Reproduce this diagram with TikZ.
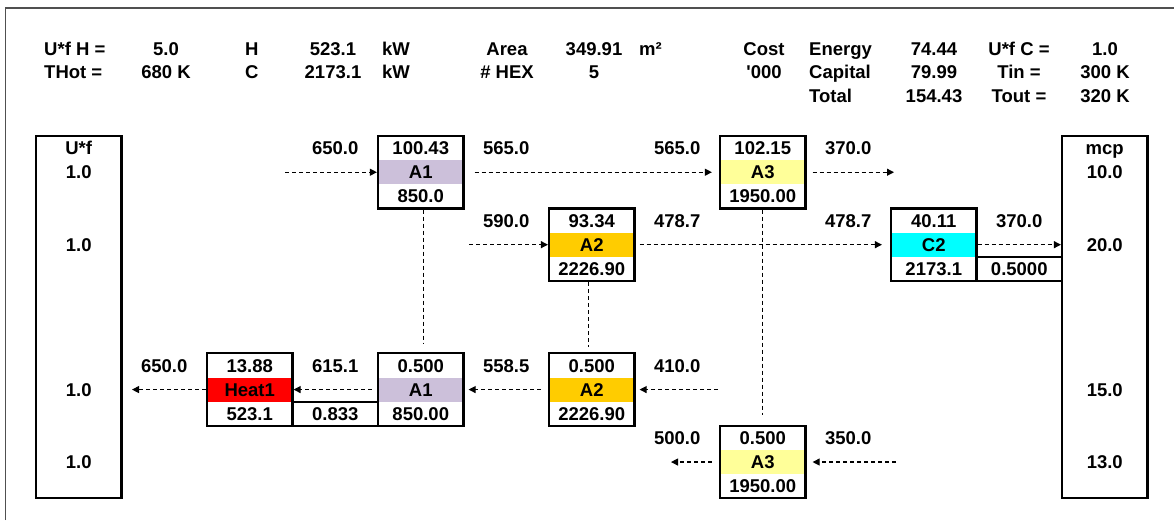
\documentclass[tikz,border=0pt]{standalone}
\usepackage{fontspec}
\setmainfont{Liberation Sans}
\usetikzlibrary{arrows.meta,calc}
\definecolor{lav}{HTML}{CCC0DA}
\definecolor{amber}{HTML}{FFCC00}
\definecolor{lyel}{HTML}{FFFF99}
\definecolor{cyanx}{HTML}{00FFFF}
\definecolor{redx}{HTML}{FF0000}
\definecolor{framegray}{HTML}{505050}
\newcommand{\GX}[1]{36+85.5*(#1)}
\newcommand{\GY}[1]{136+24.15*(#1)}
\newcommand{\hexch}[7]{%
  \fill[#4] ({\GX{#2}},{\GY{#3+1}}) rectangle ({\GX{#2+1}},{\GY{#3+2}});
  \node[hexbox] (#1) at ({\GX{#2+0.5}},{\GY{#3+1.5}}) {};
  \node (#1-t) at ({\GX{#2+0.5}},{\GY{#3+0.5}}) {#5};
  \node (#1-m) at ({\GX{#2+0.5}},{\GY{#3+1.5}}) {#6};
  \node (#1-b) at ({\GX{#2+0.5}},{\GY{#3+2.5}}) {#7};
}
\newcommand{\gcell}[4]{\node (#1) at ({\GX{#2+0.5}},{\GY{#3+0.5}}) {#4};}
\begin{document}
\begin{tikzpicture}[x=1pt,y=-1pt,
  every node/.style={font=\fontsize{18.5}{21}\selectfont\bfseries, inner sep=0pt, text height=13.2pt, text depth=0pt},
  hexbox/.style={draw, line width=2.2pt, minimum width=85.5pt, minimum height=72.45pt},
  onecell/.style={draw, line width=2.2pt, minimum width=85.5pt, minimum height=24.15pt},
  sidebox/.style={draw, line width=2.2pt, minimum width=85.5pt, minimum height=362.25pt},
  flow/.style={dashed, dash pattern=on 4pt off 3pt, line width=1.1pt, -{Triangle[length=7pt,width=7pt]}},
  vline/.style={dash pattern=on 4pt off 3pt, line width=1.1pt},
  hl/.style={anchor=west}]
\useasboundingbox (0,0) rectangle (1174,520);
\draw[framegray, line width=1.5pt] (5.5,520) -- (5.5,8) -- (1174,8);

% header
\node[hl] (h1) at (44,48.5) {U*f H =};
\node[hl] (h2) at (44,72) {THot =};
\node (h3) at (166,48.5) {5.0};
\node (h4) at (166,72) {680 K};
\node[hl] (h5) at (245,48.5) {H};
\node[hl] (h6) at (245,72) {C};
\node (h7) at (333,48.5) {523.1};
\node (h8) at (333,72) {2173.1};
\node[hl] (h9) at (382,48.5) {kW};
\node[hl] (h10) at (382,72) {kW};
\node (h11) at (507,48.5) {Area};
\node (h12) at (507,72) {\# HEX};
\node (h13) at (594,48.5) {349.91};
\node (h14) at (594,72) {5};
\node[hl] (h15) at (639,48.5) {m²};
\node (h16) at (764,48.5) {Cost};
\node (h17) at (764,72) {\textquotesingle 000};
\node[hl] (h18) at (809,48.5) {Energy};
\node[hl] (h19) at (809,72) {Capital};
\node[hl] (h20) at (809,95.5) {Total};
\node (h21) at (934,48.5) {74.44};
\node (h22) at (934,72) {79.99};
\node (h23) at (934,95.5) {154.43};
\node (h24) at (1019,48.5) {U*f C =};
\node (h25) at (1019,72) {Tin =};
\node (h26) at (1019,95.5) {Tout =};
\node (h27) at (1105,48.5) {1.0};
\node (h28) at (1105,72) {300 K};
\node (h29) at (1105,95.5) {320 K};

% side boxes
\node[sidebox] (uf) at ({\GX{0.5}},{\GY{7.5}}) {};
\node[sidebox] (mcp) at ({\GX{12.5}},{\GY{7.5}}) {};
\gcell{uf0}{0}{0}{U*f}
\gcell{uf1}{0}{1}{1.0}
\gcell{uf2}{0}{4}{1.0}
\gcell{uf3}{0}{10}{1.0}
\gcell{uf4}{0}{13}{1.0}
\gcell{mc0}{12}{0}{mcp}
\gcell{mc1}{12}{1}{10.0}
\gcell{mc2}{12}{4}{20.0}
\gcell{mc3}{12}{10}{15.0}
\gcell{mc4}{12}{13}{13.0}

% exchangers
\hexch{A1t}{4}{0}{lav}{100.43}{A1}{850.0}
\hexch{A3t}{8}{0}{lyel}{102.15}{A3}{1950.00}
\hexch{A2t}{6}{3}{amber}{93.34}{A2}{2226.90}
\hexch{C2}{10}{3}{cyanx}{40.11}{C2}{2173.1}
\hexch{H1}{2}{9}{redx}{13.88}{Heat1}{523.1}
\hexch{A1b}{4}{9}{lav}{0.500}{A1}{850.00}
\hexch{A2b}{6}{9}{amber}{0.500}{A2}{2226.90}
\hexch{A3b}{8}{12}{lyel}{0.500}{A3}{1950.00}
\node[onecell] (c833) at ({\GX{3.5}},{\GY{11.5}}) {0.833};
\node[onecell] (c5000) at ({\GX{11.5}},{\GY{5.5}}) {0.5000};

% temperatures
\gcell{t1}{3}{0}{650.0}
\gcell{t2}{5}{0}{565.0}
\gcell{t3}{7}{0}{565.0}
\gcell{t4}{9}{0}{370.0}
\gcell{t5}{5}{3}{590.0}
\gcell{t6}{7}{3}{478.7}
\gcell{t7}{9}{3}{478.7}
\gcell{t8}{11}{3}{370.0}
\gcell{t9}{1}{9}{650.0}
\gcell{t10}{3}{9}{615.1}
\gcell{t11}{5}{9}{558.5}
\gcell{t12}{7}{9}{410.0}
\gcell{t13}{7}{12}{500.0}
\gcell{t14}{9}{12}{350.0}

% free ends
\coordinate (p1) at (285,{\GY{1.5}});
\coordinate (p2) at (894,{\GY{1.5}});
\coordinate (p3) at (469,{\GY{4.5}});
\coordinate (p4) at (132,{\GY{10.5}});
\coordinate (p5) at (718,{\GY{10.5}});
\coordinate (p6) at (671,{\GY{13.5}});
\coordinate (p7) at (896,{\GY{13.5}});

% hot/cold flow arrows
\draw[flow] (p1) -- (A1t.west);
\draw[flow, shorten <=10pt, shorten >=7pt] (A1t.east) -- (A3t.west);
\draw[flow, shorten <=6pt] (A3t.east) -- (p2);
\draw[flow] (p3) -- (A2t.west);
\draw[flow, shorten <=4pt, shorten >=8pt] (A2t.east) -- (C2.west);
\draw[flow] (C2.east) -- (C2.east -| mcp.west);
\draw[flow] (H1.west) -- (p4);
\draw[flow, shorten <=5pt] (A1b.west) -- (H1.east);
\draw[flow, shorten <=7pt, shorten >=4pt] (A2b.west) -- (A1b.east);
\draw[flow, shorten >=4pt] (p5) -- (A2b.east);
\draw[flow, shorten <=7pt] (A3b.west) -- (p6);
\draw[flow, shorten >=6pt] (p7) -- (A3b.east);

% match links
\draw[vline, shorten >=9pt] ([xshift=3pt]A1t.south) -- ([xshift=3pt]A1b.north);
\draw[vline, shorten >=5pt] ([xshift=-3pt]A2t.south) -- ([xshift=-3pt]A2b.north);
\draw[vline, shorten >=10pt] (A3t.south) -- (A3b.north);
\end{tikzpicture}
\end{document}
